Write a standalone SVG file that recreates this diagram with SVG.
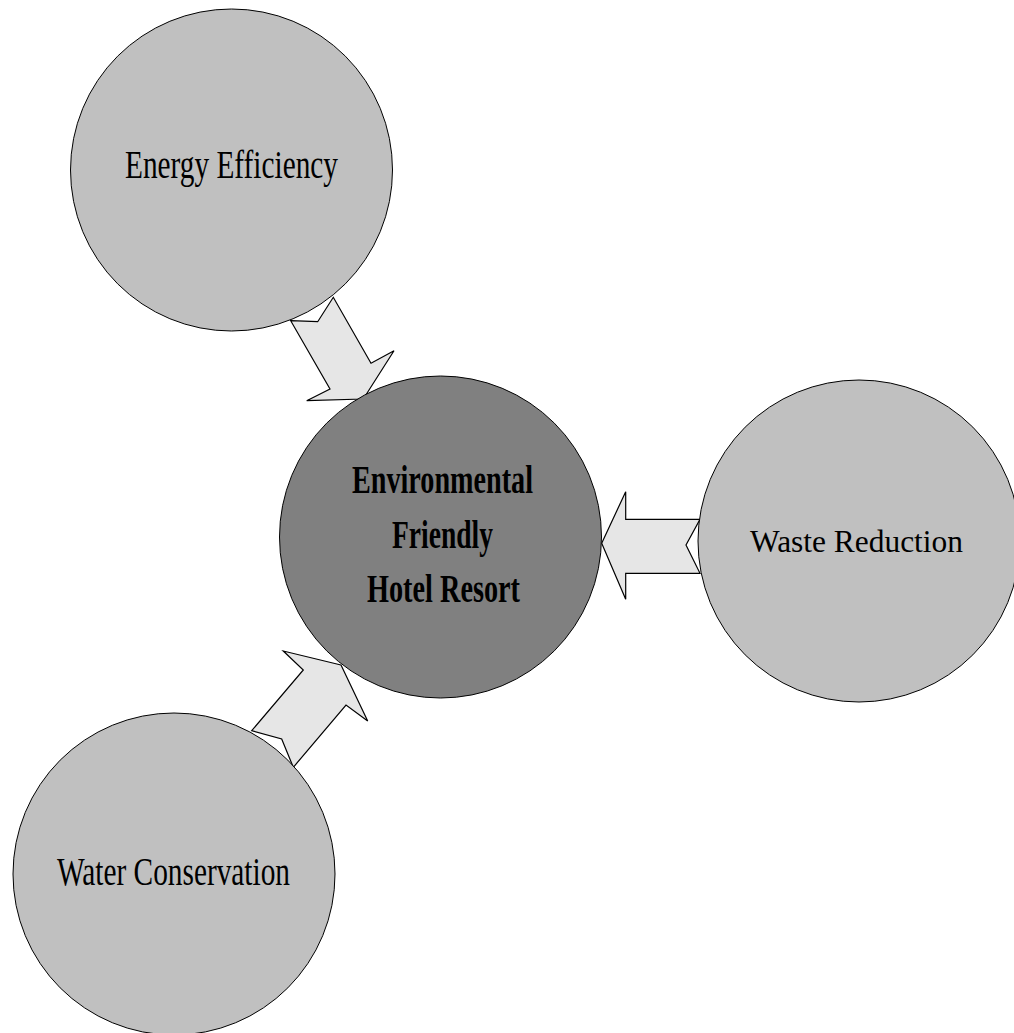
<svg xmlns="http://www.w3.org/2000/svg" width="1014" height="1033" viewBox="0 0 1014 1033">
<style>
.bg{fill:#ffffff}
.node-light{fill:#c0c0c0;stroke:#000;stroke-width:1}
.node-dark{fill:#808080;stroke:#000;stroke-width:1}
.arrow{fill:#e6e6e6;stroke:#000;stroke-width:1.2;stroke-linejoin:miter}
.lbl{font-family:"Liberation Serif","Times New Roman",serif;fill:#000}
.cond{font-size:40px}
.bold{font-size:40px;font-weight:bold}
.norm{font-size:31px}
</style>
<rect class="bg" x="0" y="0" width="1014" height="1033"/>
<g id="connectors">
<polygon class="arrow" points="290.7,320.7 317.7,321.7 333.3,297.3 371,363.3 394,350.7 363.3,399 306.7,400.7 330,389"/>
<polygon class="arrow" points="601.7,543.3 625.7,491.7 625.7,519.3 700,519.3 686,545 700,573.3 625.7,573.3 625.7,599.3"/>
<polygon class="arrow" points="341,665 283.3,651 303.3,670 251.7,730.7 281.7,739 293.3,767.3 346,705 367.7,721"/>
</g>
<g id="energy-efficiency">
<circle class="node-light" cx="231.5" cy="170" r="161"/>
<text class="lbl cond" x="125" y="178" textLength="213" lengthAdjust="spacingAndGlyphs">Energy Efficiency</text>
</g>
<g id="environmental-hotel">
<circle class="node-dark" cx="440.5" cy="537" r="161"/>
<text class="lbl bold" x="352" y="493" textLength="181" lengthAdjust="spacingAndGlyphs">Environmental</text>
<text class="lbl bold" x="392" y="548" textLength="101" lengthAdjust="spacingAndGlyphs">Friendly</text>
<text class="lbl bold" x="367" y="602" textLength="153" lengthAdjust="spacingAndGlyphs">Hotel Resort</text>
</g>
<g id="waste-reduction">
<circle class="node-light" cx="859" cy="541" r="161"/>
<text class="lbl norm" x="750" y="552" textLength="213" lengthAdjust="spacingAndGlyphs">Waste Reduction</text>
</g>
<g id="water-conservation">
<circle class="node-light" cx="174" cy="874" r="161"/>
<text class="lbl cond" x="57" y="885" textLength="233" lengthAdjust="spacingAndGlyphs">Water Conservation</text>
</g>
</svg>
